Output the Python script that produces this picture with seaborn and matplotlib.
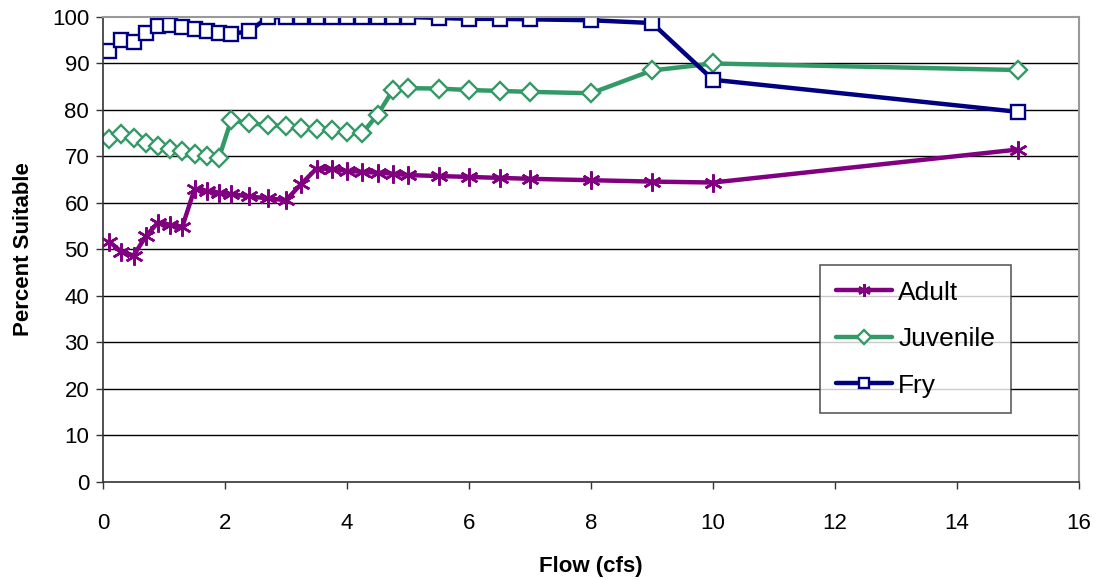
import pandas as pd
import seaborn as sns
import matplotlib
matplotlib.use("Agg")
import matplotlib.pyplot as plt

flow = [0.1, 0.3, 0.5, 0.7, 0.9, 1.1, 1.3, 1.5, 1.7, 1.9, 2.1, 2.4, 2.7, 3.0,
        3.25, 3.5, 3.75, 4.0, 4.25, 4.5, 4.75, 5.0, 5.5, 6.0, 6.5, 7.0, 8, 9, 10, 15]
adult = [51.7, 49.5, 48.7, 52.8, 55.8, 55.3, 54.9, 63.0, 62.6, 62.2, 61.9, 61.4, 61.0, 60.6,
         64.1, 67.4, 67.3, 66.9, 66.7, 66.5, 66.3, 66.0, 65.8, 65.6, 65.4, 65.2, 64.9, 64.6, 64.4, 71.5]
juvenile = [73.8, 74.9, 74.0, 73.0, 72.3, 71.6, 71.1, 70.6, 70.2, 69.7, 77.8, 77.1, 76.8, 76.5,
            76.2, 75.9, 75.6, 75.3, 75.0, 79.0, 84.2, 84.7, 84.6, 84.3, 84.1, 83.9, 83.6, 88.5, 90.0, 88.6]
fry = [92.6, 95.1, 94.6, 96.5, 98.1, 98.3, 97.8, 97.4, 97.0, 96.6, 96.3, 97.0, 99.9, 100,
       100, 100, 100, 100, 100, 100, 100, 100, 99.8, 99.6, 99.6, 99.5, 99.3, 98.7, 86.5, 79.6]

series = ["Adult", "Juvenile", "Fry"]
colors = {"Adult": "#800080", "Juvenile": "#339966", "Fry": "#000080"}

sns.set_style("white")
plt.rcParams["font.family"] = ["Liberation Sans", "DejaVu Sans"]
plt.rcParams["text.color"] = "black"
plt.rcParams["axes.labelcolor"] = "black"
plt.rcParams["xtick.color"] = "black"
plt.rcParams["ytick.color"] = "black"

fig = plt.figure(figsize=(11.01, 5.8), dpi=100)
ax = fig.add_axes([0.0936, 0.169, 0.8864, 0.8017])

df = pd.DataFrame({"flow": flow, "Adult": adult, "Juvenile": juvenile, "Fry": fry})
long = df.melt(id_vars="flow", value_vars=series, var_name="stage", value_name="pct")

# horizontal gridlines
for gy in range(10, 100, 10):
    ax.axhline(gy, color="black", lw=1, zorder=0)

marker_kw = {
    "Adult": dict(marker=(6, 2, 0), markersize=13, markeredgewidth=1.8,
                  markeredgecolor=colors["Adult"]),
    "Juvenile": dict(marker="D", markersize=9.5, markeredgewidth=1.7,
                     markerfacecolor="white", markeredgecolor=colors["Juvenile"]),
    "Fry": dict(marker="s", markersize=10, markeredgewidth=1.7,
                markerfacecolor="white", markeredgecolor=colors["Fry"]),
}
for s in series:
    sub = long[long["stage"] == s]
    sns.lineplot(data=sub, x="flow", y="pct", ax=ax, color=colors[s], lw=3.2,
                 label=s, **marker_kw[s])

ax.set_xlim(0, 16)
ax.set_ylim(0, 100)
ax.set_xticks(range(0, 17, 2))
ax.set_yticks(range(0, 101, 10))
ax.tick_params(axis="both", direction="out", length=5, width=1, color="#333333",
               labelsize=16, labelcolor="black", left=True, bottom=True)
ax.tick_params(axis="x", pad=17)
ax.tick_params(axis="y", pad=5)

for side in ["left", "bottom"]:
    ax.spines[side].set_color("#333333")
    ax.spines[side].set_linewidth(1.2)
for side in ["top", "right"]:
    ax.spines[side].set_color("#999999")
    ax.spines[side].set_linewidth(1.5)

ax.set_xlabel("Flow (cfs)", fontsize=16, fontweight="bold", labelpad=16)
ax.set_ylabel("Percent Suitable", fontsize=16, fontweight="bold", labelpad=13)

leg = ax.legend(loc="upper left", bbox_to_anchor=(0.735, 0.467), fontsize=19,
                frameon=True, fancybox=False, handlelength=2.1, borderpad=0.6,
                labelspacing=0.85, handletextpad=0.25, borderaxespad=0,
                markerscale=0.7)
leg.get_frame().set_edgecolor("#333333")
leg.get_frame().set_linewidth(1.2)

fig.savefig("out.png", dpi=100, facecolor="white")
